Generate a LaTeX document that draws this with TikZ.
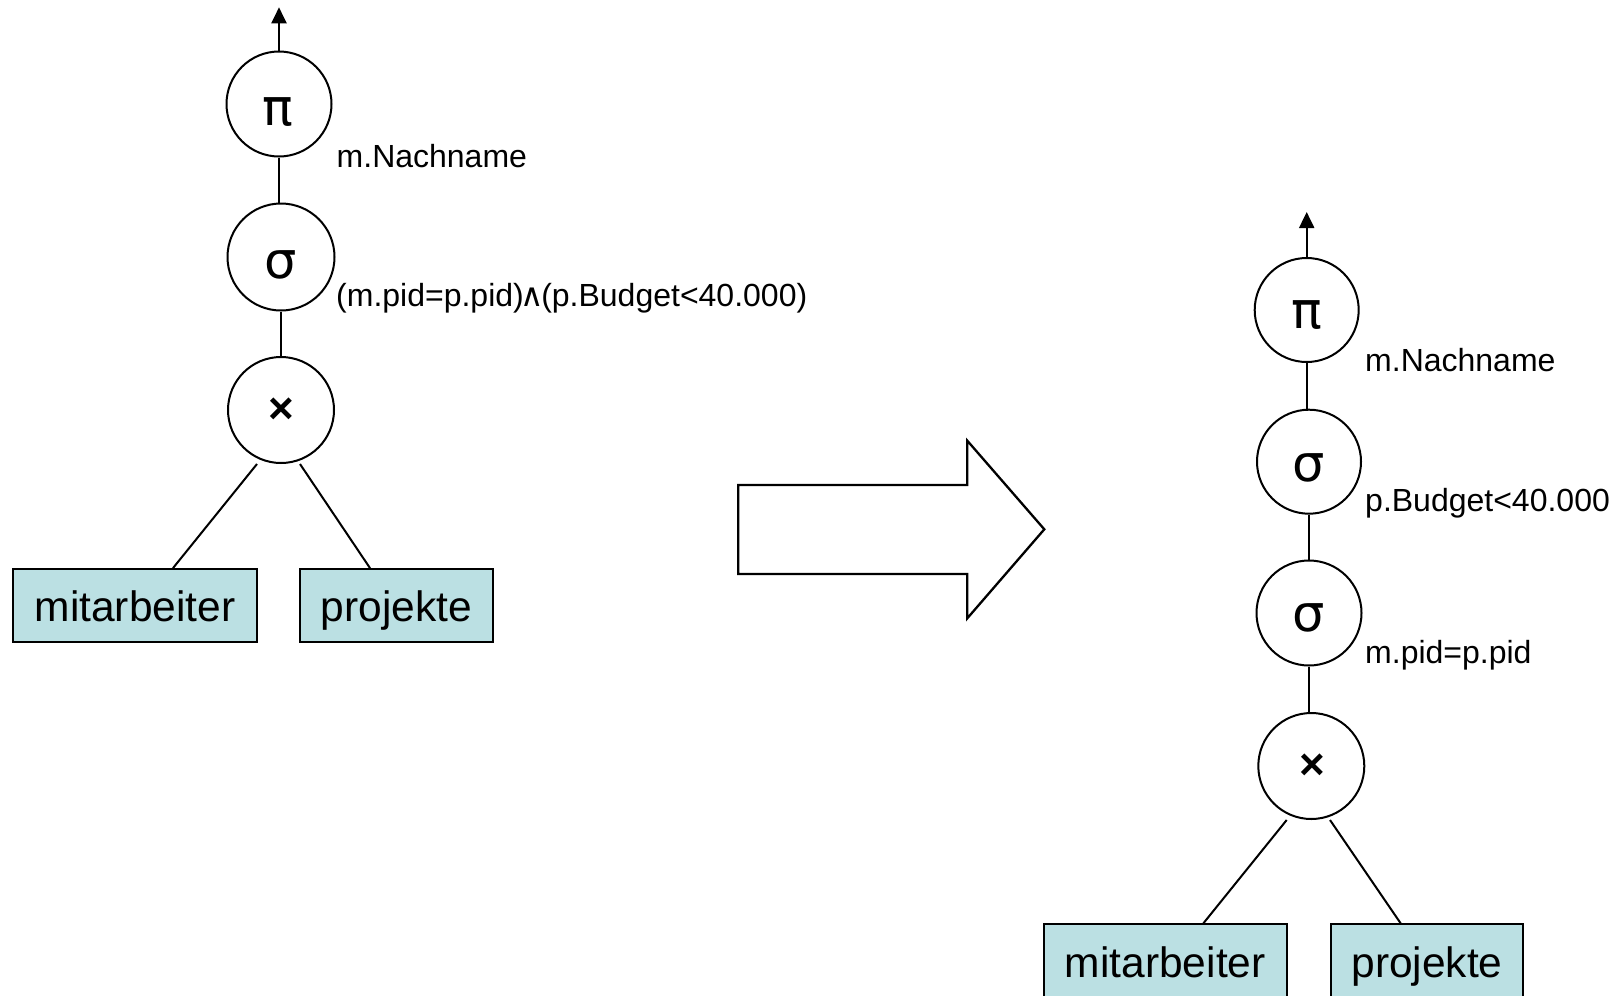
\documentclass[tikz,border=0pt]{standalone}
\usepackage{fontspec}
\setmainfont{Liberation Sans}
\newfontfamily\symfont{DejaVu Sans}
\usetikzlibrary{arrows.meta}
\definecolor{relfill}{RGB}{187,224,227}
\begin{document}
\begin{tikzpicture}[x=1pt,y=-1pt,
  opnode/.style={circle,draw,line width=2pt,inner sep=0pt},
  opsym/.style={anchor=base,inner sep=0pt,font=\symfont\fontsize{51}{51}\selectfont},
  crosssym/.style={inner sep=0pt,font=\bfseries\fontsize{44}{44}\selectfont},
  cond/.style={anchor=base west,inner sep=0pt,font=\fontsize{32}{32}\selectfont},
  relbox/.style={draw,line width=1.8pt,fill=relfill,inner sep=0pt,
    minimum height=73pt,text height=32.4pt,text depth=0pt,
    font=\fontsize{42.5}{42.5}\selectfont},
  edge/.style={line width=2pt},
  outarrow/.style={line width=2pt,-{Triangle[length=16pt,width=15pt]}}]
\useasboundingbox (0,0) rectangle (1615,996);

% ---------- left query tree ----------
\node[opnode,minimum size=105pt] (pA) at (279,104) {};
\node[opsym] (pAs) at (278,125) {π};
\node[opnode,minimum size=107pt] (sA) at (281,257) {};
\node[opsym] (sAs) at (281,278) {σ};
\node[opnode,minimum size=106pt] (xA) at (281,410) {};
\node[crosssym] (xAs) at (281.7,410.8) {×};
\coordinate (outA) at (279,7.3);

\node[cond] (lA1) at (336.5,167) {m.Nachname};
\node[cond] (lA2) at (336,306) {(m.pid=p.pid)\kern-3pt{\symfont ∧}\kern-3pt(p.Budget<40.000)};

\node[relbox,minimum width=244pt] (mA) at (135,605.5) {mitarbeiter};
\node[relbox,minimum width=193pt] (prA) at (396.5,605.5) {projekte};

\draw[outarrow] (pA.north) -- (outA);
\draw[edge] (pA.south) -- (pA.south |- sA.north);
\draw[edge] (sA.south) -- (sA.south |- xA.north);
\draw[edge] ([shift={(-24,54)}]xA.center) -- ([xshift=38pt]mA.north);
\draw[edge] ([shift={(19,54)}]xA.center) -- ([xshift=-26.5pt]prA.north);

% ---------- transformation arrow ----------
\draw[line width=2.3pt,line join=miter]
  (738.3,485) -- (967.3,485) -- (967.3,440.7) -- (1044.3,529.3)
  -- (967.3,618.3) -- (967.3,574) -- (738.3,574) -- cycle;

% ---------- right query tree ----------
\node[opnode,minimum size=104pt] (pB) at (1306.7,310) {};
\node[opsym] (pBs) at (1306.5,328.3) {π};
\node[opnode,minimum size=104pt] (sB1) at (1309,461.7) {};
\node[opsym] (sB1s) at (1309,481.7) {σ};
\node[opnode,minimum size=105pt] (sB2) at (1309,613) {};
\node[opsym] (sB2s) at (1309,631.7) {σ};
\node[opnode,minimum size=106pt] (xB) at (1311.3,766) {};
\node[crosssym] (xBs) at (1312,766.3) {×};
\coordinate (outB) at (1306.7,212);

\node[cond] (lB1) at (1365,371.7) {m.Nachname};
\node[cond] (lB2) at (1365,511.7) {p.Budget<40.000};
\node[cond] (lB3) at (1365,663.5) {m.pid=p.pid};

\node[relbox,minimum width=242.7pt] (mB) at (1165.3,960.8) {mitarbeiter};
\node[relbox,minimum width=192.6pt] (prB) at (1427,960.8) {projekte};

\draw[outarrow] (pB.north) -- (outB);
\draw[edge] (pB.south) -- (pB.south |- sB1.north);
\draw[edge] (sB1.south) -- (sB1.south |- sB2.north);
\draw[edge] (sB2.south) -- (sB2.south |- xB.north);
\draw[edge] ([shift={(-24.6,54)}]xB.center) -- ([xshift=38pt]mB.north);
\draw[edge] ([shift={(18.7,54)}]xB.center) -- ([xshift=-26.3pt]prB.north);
\end{tikzpicture}
\end{document}
